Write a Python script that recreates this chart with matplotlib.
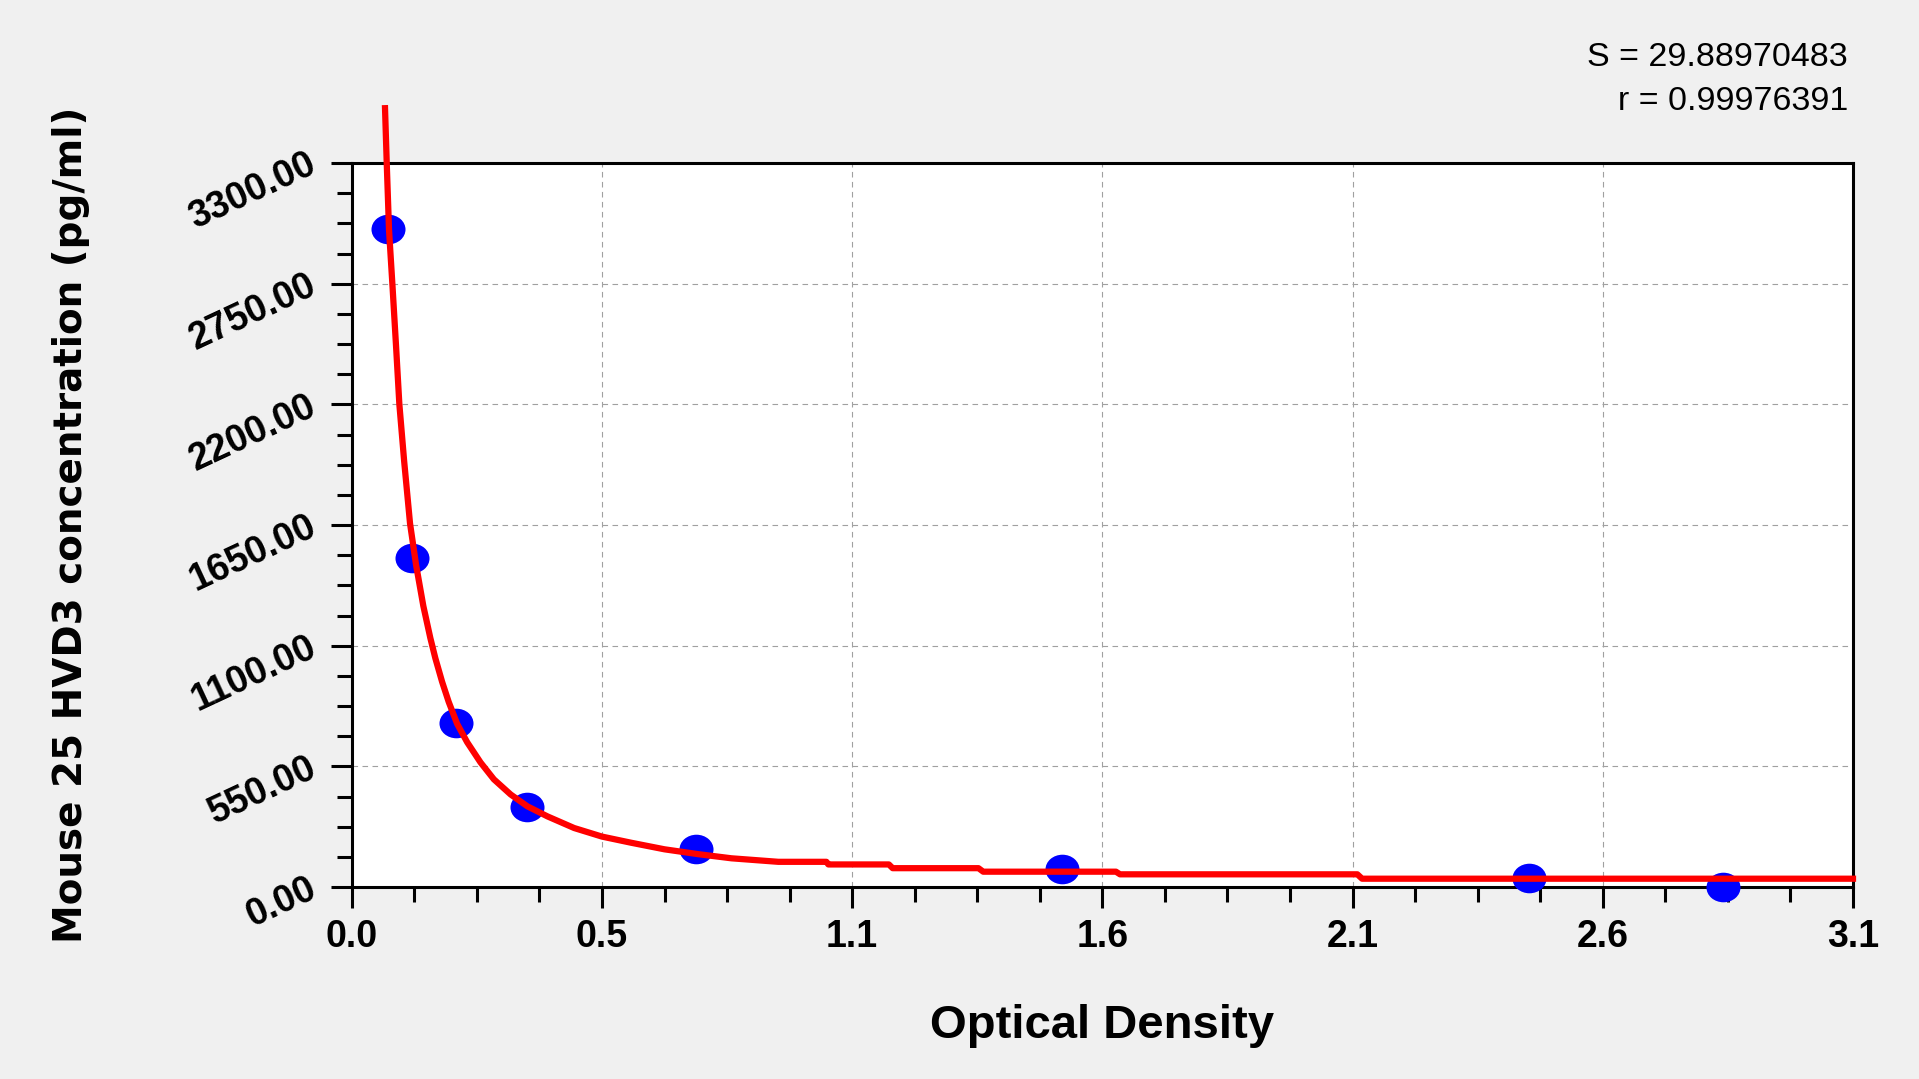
import numpy as np
import matplotlib
matplotlib.use('Agg')
import matplotlib.pyplot as plt
from matplotlib.ticker import AutoMinorLocator, FixedLocator
from matplotlib.path import Path
from matplotlib.transforms import Affine2D

# Standard points (OD, concentration)
od = [0.077, 0.126, 0.219, 0.367, 0.723, 1.491, 2.470, 2.877]
conc = [3000, 1500, 748, 366, 174, 82, 42, 0]

# Fitted curve
curve_x = [0.0698, 0.0734, 0.0782, 0.0852, 0.0929, 0.0999, 0.110, 0.1223, 0.1349,
           0.1502, 0.1649, 0.1754, 0.1895, 0.2034, 0.2211, 0.2422, 0.2702, 0.2982,
           0.3334, 0.3685, 0.4107, 0.4667, 0.525, 0.5861, 0.6562, 0.7265, 0.7967,
           0.895, 0.996, 1.0, 1.127, 1.135, 1.315, 1.325, 1.6035, 1.612, 2.11,
           2.12, 3.15]
curve_y = [3550, 3300, 2995, 2750, 2467, 2200, 1940, 1657, 1469,
           1281, 1135, 1043, 936, 844, 744, 660, 568, 491,
           422, 368, 322, 269, 230, 202, 172, 150, 131,
           115, 115, 103, 103, 86, 86, 70, 70, 58, 58,
           38, 38]

x_max = 3.15
x_labels = ['0.0', '0.5', '1.1', '1.6', '2.1', '2.6', '3.1']
y_ticks = [0, 550, 1100, 1650, 2200, 2750, 3300]
stats = ['S = 29.88970483', 'r = 0.99976391']

fig = plt.figure(figsize=(19.19, 10.79), dpi=100, facecolor='#f0f0f0')
ax = fig.add_axes([0.1833, 0.1779, 0.7823, 0.6710])
ax.set_facecolor('white')

# ellipse marker, a bit wider than tall
ell = Path.unit_circle().transformed(Affine2D().scale(1.15, 1.0))
ax.plot(od, conc, linestyle='none', marker=ell, markersize=24.5,
        color='#0000ff', markeredgewidth=0, zorder=3, clip_on=False)
ax.plot(curve_x, curve_y, color='#ff0000', linewidth=4.5, zorder=4,
        clip_on=False, solid_joinstyle='round')

ax.set_xlim(0, x_max)
ax.set_ylim(0, 3300)
ax.xaxis.set_major_locator(FixedLocator(np.linspace(0, x_max, 7)))
ax.set_xticklabels(x_labels)
ax.xaxis.set_minor_locator(AutoMinorLocator(4))
ax.set_yticks(y_ticks)
ax.set_yticklabels(['%.2f' % v for v in y_ticks])
ax.yaxis.set_minor_locator(AutoMinorLocator(4))

ax.grid(True, which='major', color='#a0a0a0', linestyle=(0, (5, 4)), linewidth=0.8)
ax.set_axisbelow(True)

for sp in ax.spines.values():
    sp.set_linewidth(2.2)
    sp.set_color('black')

ax.tick_params(axis='both', which='major', length=15, width=2.2, direction='out')
ax.tick_params(axis='both', which='minor', length=11, width=2.2, direction='out')
ax.tick_params(axis='x', which='major', pad=8)
ax.tick_params(axis='y', which='major', pad=12)

for lab in ax.get_xticklabels():
    lab.set_fontfamily('Liberation Sans')
    lab.set_fontweight('bold')
    lab.set_fontsize(27)
for lab in ax.get_yticklabels():
    lab.set_fontfamily('Liberation Sans')
    lab.set_fontweight('bold')
    lab.set_fontsize(27)
    lab.set_rotation(25)
    lab.set_rotation_mode('anchor')
    lab.set_ha('right')
    lab.set_va('center')

fig.text(0.5743, 1 - 1026 / 1079, 'Optical Density', ha='center', va='center',
         fontsize=34, fontweight='bold', family='Liberation Sans')
fig.text(71 / 1919, 0.5134, 'Mouse 25 HVD3 concentration (pg/ml)', ha='center',
         va='center', rotation=90, fontsize=28, fontweight='bold', family='DejaVu Sans')

fig.text(0.963, 1 - 57 / 1079, stats[0], ha='right', va='center', fontsize=24.5,
         family='Liberation Sans')
fig.text(0.963, 1 - 102 / 1079, stats[1], ha='right', va='center', fontsize=24.5,
         family='Liberation Sans')

fig.savefig('out.png', dpi=100, facecolor=fig.get_facecolor())
